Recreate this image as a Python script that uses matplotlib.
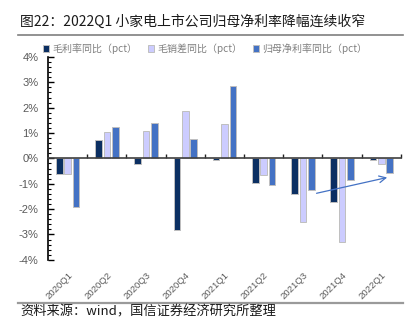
import numpy as np
import matplotlib.pyplot as plt
from matplotlib.ticker import MultipleLocator, FuncFormatter
from matplotlib.lines import Line2D

plt.rcParams['font.family'] = ['Noto Sans CJK SC', 'DejaVu Sans']

# data (pct)
quarters = ['2020Q1', '2020Q2', '2020Q3', '2020Q4', '2021Q1',
            '2021Q2', '2021Q3', '2021Q4', '2022Q1']
gross_margin = [-0.63, 0.73, -0.22, -2.82, -0.05, -0.96, -1.42, -1.72, -0.05]
sales_exp = [-0.63, 1.04, 1.09, 1.86, 1.35, -0.66, -2.51, -3.31, -0.24]
net_margin = [-1.90, 1.25, 1.38, 0.76, 2.85, -1.04, -1.25, -0.85, -0.58]

series = [('毛利率同比（pct）', gross_margin, '#0B2F62'),
          ('毛销差同比（pct）', sales_exp, '#CCCCFF'),
          ('归母净利率同比（pct）', net_margin, '#4472C4')]

fig = plt.figure(figsize=(4.18, 3.31), dpi=100)
ax = fig.add_axes([0.115, 0.215, 0.844, 0.613])

x = np.arange(len(quarters))
w = 0.17
step = 0.215
for i, (name, vals, col) in enumerate(series):
    ax.bar(x + (i - 1) * step, vals, width=w, color=col,
           edgecolor='#BFBFBF', linewidth=0.7, label=name, zorder=2)

ax.set_xlim(-0.5, len(quarters) - 0.5)
ax.set_ylim(-4, 4)

# y axis
ax.yaxis.set_major_locator(MultipleLocator(1))
ax.yaxis.set_minor_locator(MultipleLocator(0.2))
ax.yaxis.set_major_formatter(FuncFormatter(lambda v, p: f'{v:.0f}%'))
ax.tick_params(axis='y', which='major', direction='in', length=4, width=1,
               labelsize=8, labelcolor='#595959', pad=7)
ax.tick_params(axis='y', which='minor', direction='in', length=2.5, width=0.8)
for lab in ax.get_yticklabels():
    lab.set_family('Liberation Sans')

ax.spines['top'].set_visible(False)
ax.spines['right'].set_visible(False)
ax.spines['left'].set_linewidth(1.2)
ax.spines['bottom'].set_position(('data', 0))
ax.spines['bottom'].set_color('#404040')
ax.spines['bottom'].set_linewidth(1.2)

# boundary ticks on the zero line
ax.set_xticks(np.arange(0.5, len(quarters), 1))
ax.set_xticklabels([])
ax.tick_params(axis='x', direction='in', length=3, width=1, color='#222222')

# category labels at the bottom
sec = ax.secondary_xaxis('bottom')
sec.set_xticks(x)
sec.set_xticklabels(quarters, rotation=45, ha='right', va='top',
                    rotation_mode='anchor',
                    fontsize=6.8, color='#595959', family='Liberation Sans')
sec.tick_params(length=0, pad=7.5)
sec.spines['bottom'].set_visible(False)

# trend arrow
ax.annotate('', xy=(8.22, -0.73), xytext=(6.28, -1.40),
            arrowprops=dict(arrowstyle='->', color='#4472C4', lw=0.9,
                            mutation_scale=12), zorder=3)

# legend
leg = ax.legend(loc='lower left', bbox_to_anchor=(-0.025, 0.995), ncol=3,
                frameon=False, fontsize=7.2, handlelength=0.6,
                handleheight=0.6, handletextpad=0.3, columnspacing=1.1,
                borderaxespad=0)
for t in leg.get_texts():
    t.set_color('#7F7F7F')

# title, rules, source
fig.text(0.048, 0.933, '图22：2022Q1 小家电上市公司归母净利率降幅连续收窄',
         fontsize=10, va='center', ha='left', color='#1a1a1a')
fig.add_artist(Line2D([0.043, 0.964], [0.894, 0.894], color='#7F7F7F', lw=1.2))
fig.add_artist(Line2D([0.043, 0.964], [0.085, 0.085], color='#9A9A9A', lw=1.6))
fig.text(0.048, 0.058, '资料来源：wind，国信证券经济研究所整理',
         fontsize=9.5, va='center', ha='left', color='#1a1a1a')

fig.savefig('out.png', dpi=100)
